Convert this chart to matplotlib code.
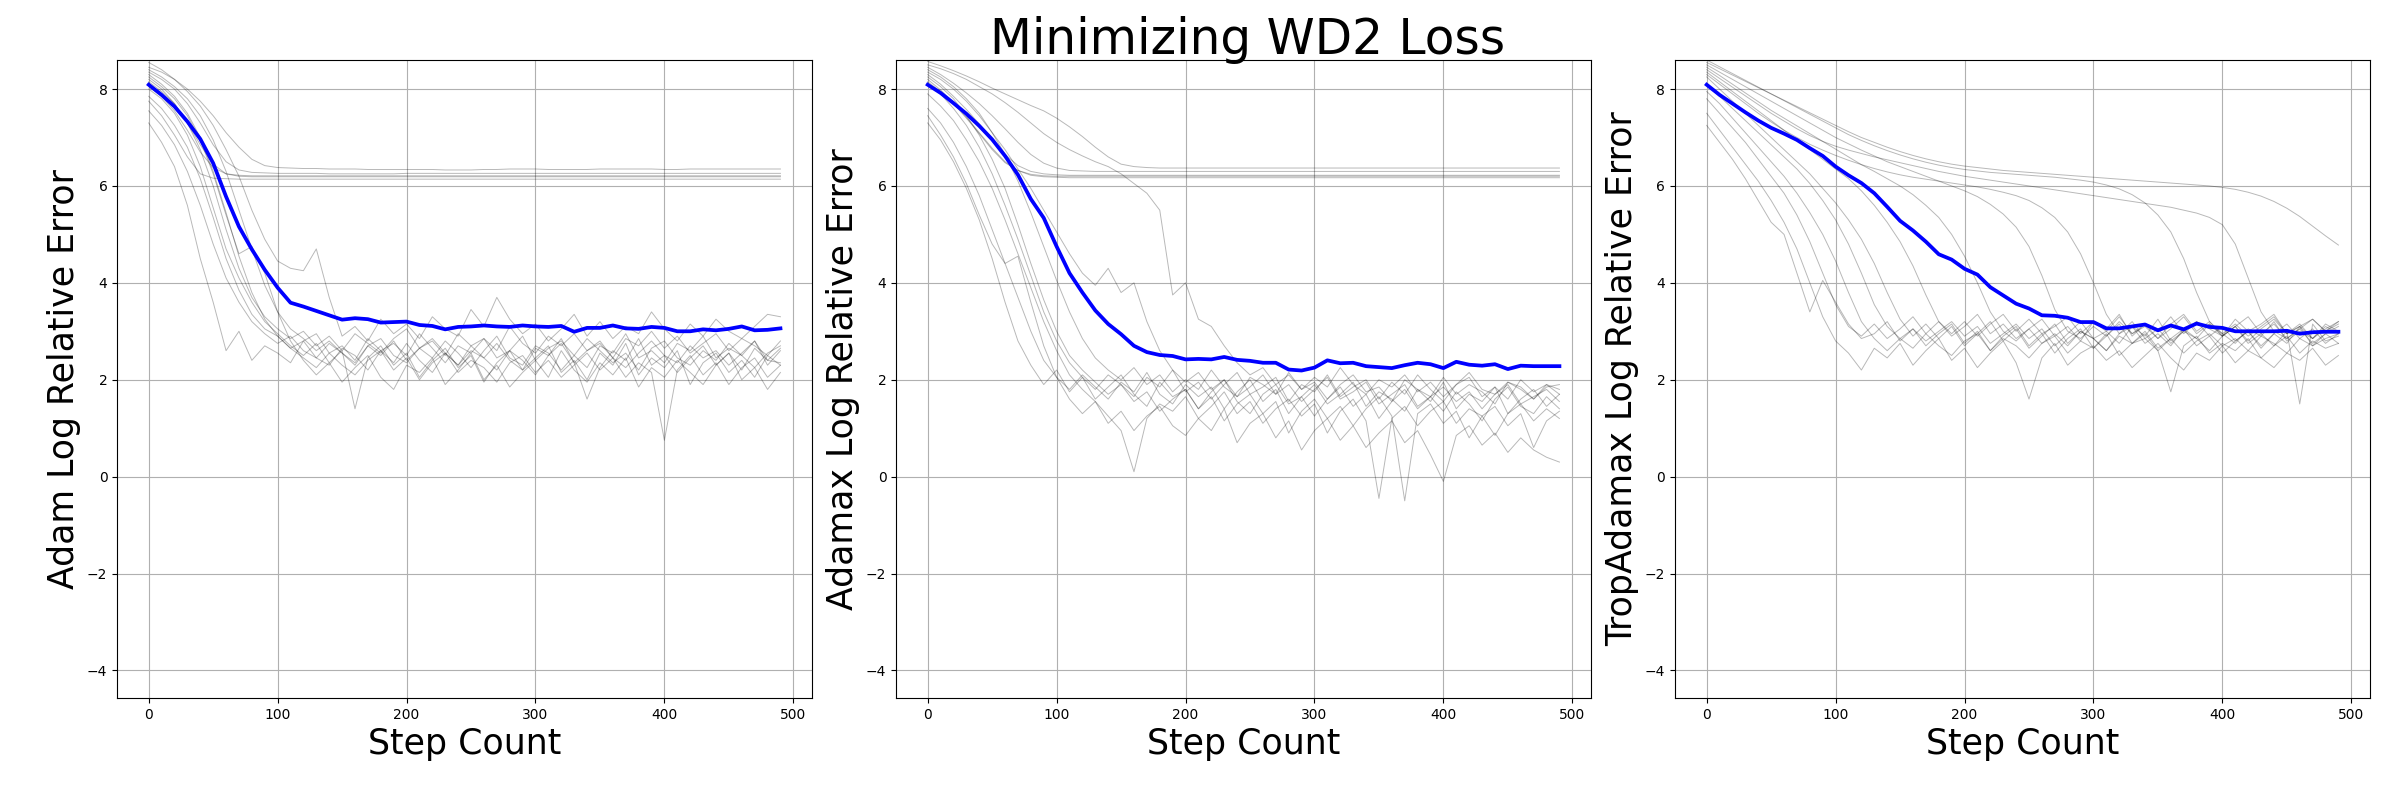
import matplotlib
matplotlib.use('Agg')
import matplotlib.pyplot as plt
import numpy as np

steps = np.arange(0, 500, 10)

# mean curves (blue)
adam_mean = [8.09, 7.88, 7.64, 7.33, 6.97, 6.47, 5.78, 5.16, 4.69, 4.27,
             3.90, 3.59, 3.51, 3.42, 3.33, 3.24, 3.27, 3.25, 3.18, 3.19,
             3.20, 3.13, 3.11, 3.04, 3.09, 3.10, 3.12, 3.10, 3.09, 3.12,
             3.10, 3.09, 3.11, 2.99, 3.07, 3.07, 3.12, 3.06, 3.05, 3.09,
             3.07, 3.00, 3.00, 3.04, 3.02, 3.05, 3.10, 3.02, 3.03, 3.06]
adamax_mean = [8.09, 7.92, 7.71, 7.49, 7.24, 6.96, 6.62, 6.23, 5.73, 5.34,
               4.75, 4.20, 3.80, 3.43, 3.15, 2.94, 2.70, 2.57, 2.51, 2.49,
               2.42, 2.43, 2.42, 2.47, 2.41, 2.39, 2.35, 2.35, 2.21, 2.19,
               2.25, 2.40, 2.34, 2.35, 2.28, 2.26, 2.24, 2.30, 2.35, 2.32,
               2.24, 2.37, 2.31, 2.29, 2.32, 2.22, 2.29, 2.28, 2.28, 2.28]
trop_mean = [8.09, 7.88, 7.70, 7.52, 7.35, 7.20, 7.08, 6.95, 6.78, 6.62,
             6.40, 6.22, 6.06, 5.85, 5.57, 5.28, 5.08, 4.85, 4.59, 4.48,
             4.29, 4.17, 3.91, 3.74, 3.57, 3.47, 3.33, 3.32, 3.28, 3.19,
             3.19, 3.06, 3.06, 3.10, 3.14, 3.02, 3.12, 3.04, 3.16, 3.09,
             3.07, 3.00, 3.00, 3.00, 3.00, 3.01, 2.95, 2.98, 2.99, 2.99]

# individual runs (gray)
adam_runs = [
    [8.45, 8.35, 8.20, 8.00, 7.75, 7.45, 7.10, 6.80, 6.55, 6.42,
     6.38, 6.37, 6.36, 6.36, 6.35, 6.35, 6.35, 6.34, 6.34, 6.34,
     6.34, 6.34, 6.34, 6.33, 6.33, 6.33, 6.34, 6.34, 6.35, 6.35,
     6.35, 6.34, 6.34, 6.34, 6.34, 6.35, 6.35, 6.35, 6.35, 6.35,
     6.34, 6.34, 6.35, 6.35, 6.35, 6.35, 6.35, 6.35, 6.35, 6.35],
    [8.35, 8.20, 8.00, 7.70, 7.30, 6.85, 6.50, 6.33, 6.28, 6.27,
     6.26, 6.26, 6.26, 6.26, 6.25, 6.25, 6.25, 6.25, 6.25, 6.25,
     6.26, 6.26, 6.26, 6.26, 6.26, 6.26, 6.26, 6.26, 6.26, 6.26,
     6.26, 6.26, 6.26, 6.26, 6.26, 6.26, 6.26, 6.26, 6.26, 6.26,
     6.26, 6.26, 6.26, 6.26, 6.26, 6.26, 6.26, 6.26, 6.26, 6.26],
    [8.05, 7.85, 7.55, 7.15, 6.70, 6.38, 6.25, 6.22, 6.21, 6.21,
     6.21, 6.21, 6.21, 6.21, 6.21, 6.21, 6.21, 6.21, 6.21, 6.21,
     6.21, 6.21, 6.21, 6.21, 6.21, 6.21, 6.21, 6.21, 6.21, 6.21,
     6.21, 6.21, 6.21, 6.21, 6.21, 6.21, 6.21, 6.21, 6.21, 6.21,
     6.21, 6.21, 6.21, 6.21, 6.21, 6.21, 6.21, 6.21, 6.21, 6.21],
    [8.20, 8.00, 7.70, 7.30, 6.85, 6.45, 6.25, 6.20, 6.19, 6.19,
     6.19, 6.19, 6.19, 6.19, 6.19, 6.19, 6.19, 6.19, 6.19, 6.19,
     6.19, 6.19, 6.19, 6.19, 6.19, 6.19, 6.19, 6.19, 6.19, 6.19,
     6.19, 6.19, 6.19, 6.19, 6.19, 6.19, 6.19, 6.19, 6.19, 6.19,
     6.19, 6.19, 6.19, 6.19, 6.19, 6.19, 6.19, 6.19, 6.19, 6.19],
    [7.75, 7.45, 7.05, 6.60, 6.25, 6.16, 6.15, 6.14, 6.14, 6.14,
     6.14, 6.14, 6.14, 6.14, 6.14, 6.14, 6.14, 6.14, 6.14, 6.14,
     6.14, 6.14, 6.14, 6.14, 6.14, 6.14, 6.14, 6.14, 6.14, 6.14,
     6.14, 6.14, 6.14, 6.14, 6.14, 6.14, 6.14, 6.14, 6.14, 6.14,
     6.14, 6.14, 6.14, 6.14, 6.14, 6.14, 6.14, 6.14, 6.14, 6.14],
    [7.30, 6.90, 6.40, 5.60, 4.50, 3.60, 2.60, 3.00, 2.40, 2.70,
     2.55, 2.35, 2.80, 2.45, 2.30, 2.65, 2.50, 2.20, 2.60, 2.35,
     2.75, 2.40, 2.15, 2.55, 2.30, 2.70, 2.45, 2.20, 2.60, 2.40,
     2.10, 2.50, 2.75, 2.35, 1.60, 2.25, 2.60, 2.40, 2.85, 2.30,
     2.50, 2.15, 2.45, 2.70, 2.30, 2.55, 2.20, 2.65, 2.40, 2.35],
    [7.55, 7.25, 6.85, 6.30, 5.60, 4.80, 4.10, 3.60, 3.20, 2.95,
     2.75, 2.90, 2.60, 2.45, 2.75, 2.55, 2.30, 2.70, 2.85, 2.50,
     2.35, 2.65, 2.45, 2.80, 2.55, 2.25, 2.60, 2.90, 2.45, 2.30,
     2.70, 2.55, 2.20, 2.50, 2.85, 2.60, 2.35, 2.55, 2.20, 2.65,
     2.80, 2.45, 2.30, 2.60, 2.40, 2.75, 2.50, 2.25, 2.55, 2.70],
    [7.85, 7.60, 7.25, 6.80, 6.15, 5.35, 4.50, 3.85, 3.35, 3.05,
     2.90, 2.65, 2.80, 2.95, 2.55, 2.70, 2.40, 2.85, 2.60, 2.75,
     2.50, 2.95, 2.65, 2.35, 2.70, 2.55, 2.85, 2.45, 2.60, 2.90,
     2.40, 2.65, 2.80, 2.50, 2.25, 2.70, 2.55, 2.95, 2.45, 2.60,
     2.35, 2.75, 2.60, 2.90, 2.45, 2.65, 2.50, 2.80, 2.30, 2.60],
    [8.00, 7.80, 7.50, 7.05, 6.40, 5.55, 4.70, 4.10, 3.60, 3.20,
     2.95, 2.70, 2.50, 2.75, 2.35, 2.60, 1.40, 2.45, 2.70, 2.30,
     2.55, 2.05, 2.40, 2.65, 2.25, 2.50, 1.95, 2.35, 2.60, 2.20,
     2.45, 2.70, 2.15, 2.40, 2.00, 2.55, 2.30, 2.75, 2.10, 2.45,
     2.25, 2.60, 1.90, 2.35, 2.55, 2.15, 2.40, 2.05, 2.50, 2.30],
    [8.15, 7.95, 7.70, 7.30, 6.75, 6.00, 5.10, 4.30, 3.70, 3.30,
     3.05, 2.85, 3.00, 2.70, 2.90, 2.60, 2.95, 2.75, 2.55, 2.85,
     3.05, 2.65, 2.80, 2.50, 2.95, 2.70, 2.85, 2.60, 3.10, 2.75,
     2.55, 2.90, 2.70, 2.95, 2.60, 2.80, 2.45, 2.85, 2.70, 3.00,
     2.65, 2.90, 2.55, 2.75, 2.95, 2.60, 2.85, 2.70, 2.50, 2.80],
    [8.25, 8.05, 7.80, 7.45, 6.95, 6.25, 5.40, 4.60, 4.75, 4.20,
     3.40, 2.80, 2.40, 2.10, 2.35, 1.95, 2.25, 2.50, 2.05, 1.80,
     2.30, 2.15, 2.45, 1.90, 2.20, 2.55, 2.00, 2.30, 1.85, 2.15,
     2.40, 2.05, 2.60, 2.20, 1.95, 2.35, 2.10, 2.45, 1.85, 2.25,
     2.05, 2.40, 2.15, 1.90, 2.30, 2.55, 2.00, 2.25, 1.80, 2.15],
    [8.40, 8.25, 8.05, 7.80, 7.45, 6.95, 6.30, 5.50, 4.70, 3.95,
     3.40, 3.05, 2.85, 2.60, 2.80, 2.55, 2.35, 2.70, 2.50, 2.80,
     2.40, 2.65, 2.85, 2.55, 2.30, 2.60, 2.45, 2.75, 2.40, 2.20,
     2.65, 2.50, 2.85, 2.35, 2.60, 2.75, 2.45, 2.25, 2.55, 2.80,
     2.50, 2.35, 2.70, 2.45, 2.60, 2.30, 2.55, 2.80, 2.40, 2.65],
    [8.55, 8.40, 8.20, 7.95, 7.65, 7.25, 6.75, 6.20, 5.50, 4.90,
     4.45, 4.30, 4.25, 4.70, 3.70, 2.90, 3.10, 2.80, 3.25, 2.95,
     3.15, 2.85, 3.30, 3.05, 2.90, 3.45, 3.10, 3.70, 3.25, 2.95,
     3.15, 2.80, 3.05, 3.35, 2.90, 3.20, 2.85, 3.10, 2.95, 3.40,
     3.05, 2.80, 3.15, 2.90, 3.25, 3.00, 2.85, 3.10, 3.35, 3.30],
    [8.30, 8.10, 7.85, 7.50, 7.00, 6.30, 5.45, 4.55, 3.80, 3.25,
     2.90, 2.65, 2.45, 2.25, 2.55, 2.30, 2.10, 2.40, 2.60, 2.20,
     2.45, 2.00, 2.35, 2.55, 2.15, 2.40, 2.25, 1.95, 2.35, 2.50,
     2.15, 2.40, 2.05, 2.30, 2.55, 2.20, 2.45, 2.05, 2.35, 2.15,
     0.75, 2.20, 2.50, 2.10, 2.35, 1.90, 2.25, 2.45, 2.05, 2.30],
]

adamax_runs = [
    [8.57, 8.48, 8.38, 8.27, 8.15, 8.02, 7.90, 7.78, 7.66, 7.55,
     7.40, 7.22, 7.02, 6.80, 6.60, 6.45, 6.40, 6.38, 6.37, 6.37,
     6.37, 6.37, 6.37, 6.37, 6.37, 6.37, 6.37, 6.37, 6.37, 6.37,
     6.37, 6.37, 6.37, 6.37, 6.37, 6.37, 6.37, 6.37, 6.37, 6.37,
     6.37, 6.37, 6.37, 6.37, 6.37, 6.37, 6.37, 6.37, 6.37, 6.37],
    [8.45, 8.30, 8.12, 7.92, 7.70, 7.45, 7.18, 6.90, 6.65, 6.47,
     6.37, 6.32, 6.31, 6.30, 6.30, 6.30, 6.30, 6.30, 6.30, 6.30,
     6.30, 6.30, 6.30, 6.30, 6.30, 6.30, 6.30, 6.30, 6.30, 6.30,
     6.30, 6.30, 6.30, 6.30, 6.30, 6.30, 6.30, 6.30, 6.30, 6.30,
     6.30, 6.30, 6.30, 6.30, 6.30, 6.30, 6.30, 6.30, 6.30, 6.30],
    [8.30, 8.10, 7.85, 7.58, 7.28, 6.95, 6.65, 6.42, 6.30, 6.25,
     6.23, 6.22, 6.22, 6.22, 6.22, 6.22, 6.22, 6.22, 6.22, 6.22,
     6.22, 6.22, 6.22, 6.22, 6.22, 6.22, 6.22, 6.22, 6.22, 6.22,
     6.22, 6.22, 6.22, 6.22, 6.22, 6.22, 6.22, 6.22, 6.22, 6.22,
     6.22, 6.22, 6.22, 6.22, 6.22, 6.22, 6.22, 6.22, 6.22, 6.22],
    [8.15, 7.95, 7.70, 7.40, 7.08, 6.75, 6.48, 6.32, 6.24, 6.21,
     6.20, 6.20, 6.20, 6.20, 6.20, 6.20, 6.20, 6.20, 6.20, 6.20,
     6.20, 6.20, 6.20, 6.20, 6.20, 6.20, 6.20, 6.20, 6.20, 6.20,
     6.20, 6.20, 6.20, 6.20, 6.20, 6.20, 6.20, 6.20, 6.20, 6.20,
     6.20, 6.20, 6.20, 6.20, 6.20, 6.20, 6.20, 6.20, 6.20, 6.20],
    [8.20, 7.98, 7.72, 7.42, 7.10, 6.78, 6.50, 6.32, 6.22, 6.19,
     6.18, 6.17, 6.17, 6.17, 6.17, 6.17, 6.17, 6.17, 6.17, 6.17,
     6.17, 6.17, 6.17, 6.17, 6.17, 6.17, 6.17, 6.17, 6.17, 6.17,
     6.17, 6.17, 6.17, 6.17, 6.17, 6.17, 6.17, 6.17, 6.17, 6.17,
     6.17, 6.17, 6.17, 6.17, 6.17, 6.17, 6.17, 6.17, 6.17, 6.17],
    [7.30, 6.95, 6.50, 5.95, 5.30, 4.50, 3.60, 2.80, 2.30, 1.90,
     2.20, 1.75, 2.05, 1.60, 1.85, 2.10, 1.70, 1.45, 1.95, 1.65,
     1.80, 1.40, 1.75, 2.00, 1.55, 1.30, 1.70, 1.90, 1.50, 1.65,
     1.25, 1.60, 1.85, 1.45, 1.70, 1.20, 1.55, 1.80, 1.40, 1.65,
     1.35, 1.75, 1.50, 1.15, 1.60, 1.85, 1.45, 1.30, 1.65, 1.40],
    [7.60, 7.30, 6.90, 6.40, 5.80, 5.10, 4.40, 3.70, 3.00, 2.40,
     2.05, 1.80, 2.10, 1.85, 1.60, 1.95, 1.75, 2.15, 1.70, 1.50,
     1.90, 1.65, 1.85, 1.40, 1.75, 2.00, 1.55, 1.80, 1.30, 1.65,
     1.90, 1.50, 1.70, 1.95, 1.45, 1.75, 1.60, 1.35, 1.80, 1.55,
     1.95, 1.40, 1.70, 1.55, 1.85, 1.30, 1.60, 1.80, 1.45, 1.70],
    [7.90, 7.65, 7.35, 6.95, 6.50, 5.95, 5.30, 4.60, 3.90, 3.20,
     2.60, 2.10, 1.80, 1.55, 1.25, 0.95, 0.10, 1.20, 1.50, 1.35,
     1.65, 1.20, 1.45, 1.75, 1.30, 1.55, 1.10, 1.40, 1.60, 1.25,
     1.50, 0.90, 1.35, 1.60, 1.15, -0.45, 1.20, 1.45, 1.05, 1.35,
     1.55, 1.10, 1.40, 1.25, 0.85, 1.30, 1.50, 1.15, 1.40, 1.20],
    [8.10, 7.90, 7.60, 7.25, 6.80, 6.25, 5.60, 4.90, 4.15, 3.40,
     2.80, 2.35, 2.05, 1.80, 2.10, 1.90, 1.65, 2.05, 1.85, 2.20,
     1.75, 1.95, 1.60, 1.90, 2.15, 1.70, 1.85, 2.05, 1.55, 1.90,
     1.75, 2.10, 1.65, 1.85, 2.00, 1.60, 1.95, 1.70, 2.10, 1.80,
     1.55, 1.90, 2.05, 1.65, 1.85, 1.60, 2.00, 1.75, 1.90, 1.70],
    [8.25, 8.05, 7.80, 7.45, 7.05, 6.55, 5.95, 5.20, 4.40, 3.65,
     3.00, 2.50, 2.20, 1.95, 1.70, 1.90, 1.55, 1.75, 1.35, 1.60,
     1.80, 1.40, 1.65, 1.15, 1.50, 1.70, 1.30, 1.55, 0.90, 1.35,
     1.60, 1.20, 1.45, 1.05, 1.40, 1.65, 1.25, -0.50, 1.30, 1.50,
     1.10, 1.35, 0.80, 1.25, 1.45, 1.05, 1.30, 0.60, 1.15, 1.35],
    [8.40, 8.25, 8.05, 7.80, 7.50, 7.10, 6.65, 6.10, 5.45, 4.75,
     4.05, 3.40, 2.85, 2.45, 2.20, 2.00, 2.25, 1.90, 2.10, 1.75,
     2.00, 1.80, 2.20, 1.85, 1.65, 2.05, 1.90, 1.70, 2.15, 1.80,
     1.95, 1.60, 1.90, 2.10, 1.75, 1.85, 1.55, 2.00, 1.80, 1.65,
     2.05, 1.70, 1.90, 1.75, 1.50, 1.95, 1.80, 1.60, 1.85, 1.90],
    [8.50, 8.42, 8.32, 8.20, 8.05, 7.90, 7.72, 7.52, 7.30, 7.08,
     6.90, 6.75, 6.62, 6.50, 6.40, 6.25, 6.05, 5.85, 5.50, 3.75,
     4.00, 3.25, 3.10, 2.70, 2.35, 2.10, 2.25, 1.90, 2.10, 1.80,
     2.05, 1.85, 2.25, 1.90, 1.70, 2.00, 1.85, 2.10, 1.75, 1.95,
     1.65, 1.90, 2.15, 1.80, 1.70, 1.95, 1.85, 1.60, 1.90, 1.80],
    [8.35, 8.20, 8.00, 7.75, 7.45, 7.10, 6.75, 6.35, 5.95, 5.50,
     5.05, 4.60, 4.20, 3.95, 4.30, 3.80, 4.00, 3.20, 2.60, 2.20,
     1.95, 2.15, 1.80, 2.00, 1.65, 1.85, 2.10, 1.70, 1.90, 1.55,
     1.80, 2.05, 1.60, 1.75, 1.95, 1.50, 1.70, 1.90, 1.45, 1.65,
     1.85, 1.55, 1.75, 1.40, 1.70, 1.90, 1.50, 1.65, 1.80, 1.55],
    [7.45, 7.05, 6.60, 6.05, 5.40, 4.80, 4.40, 4.55, 3.60, 2.70,
     2.05, 1.60, 1.30, 1.55, 1.10, 1.35, 0.95, 1.25, 1.45, 1.05,
     0.85, 1.20, 0.95, 1.40, 0.70, 1.10, 1.30, 0.80, 1.15, 0.55,
     0.95, 1.20, 0.75, 1.05, 0.60, 0.90, 1.15, 0.70, 0.95, 0.45,
     -0.10, 0.85, 1.05, 0.65, 0.90, 0.50, 0.80, 0.55, 0.40, 0.30],
]

trop_runs = [
    [7.25, 6.90, 6.55, 6.15, 5.70, 5.25, 5.00, 4.20, 3.40, 4.05,
     3.60, 3.15, 2.85, 2.95, 3.20, 2.80, 3.05, 2.70, 2.95, 3.15,
     2.75, 3.00, 2.60, 2.90, 3.10, 2.70, 2.95, 2.55, 2.85, 3.05,
     2.65, 2.90, 3.15, 2.75, 2.95, 2.60, 2.85, 3.05, 2.70, 2.90,
     2.55, 2.80, 3.00, 2.65, 2.95, 2.75, 3.10, 2.70, 2.85, 2.95],
    [7.50, 7.15, 6.80, 6.45, 6.10, 5.70, 5.25, 4.70, 4.00, 3.30,
     2.80, 2.55, 2.20, 2.65, 2.45, 2.75, 2.30, 2.60, 2.85, 2.40,
     2.65, 2.25, 2.55, 2.80, 2.35, 1.60, 2.45, 2.75, 2.30, 2.55,
     2.70, 2.40, 2.60, 2.25, 2.50, 2.75, 2.45, 2.20, 2.55, 2.40,
     2.70, 2.35, 2.60, 2.45, 2.25, 2.55, 2.40, 2.65, 2.30, 2.50],
    [7.80, 7.50, 7.20, 6.90, 6.55, 6.20, 5.85, 5.40, 4.85, 4.20,
     3.55, 3.10, 2.90, 3.15, 2.85, 3.05, 3.30, 2.95, 3.20, 2.90,
     3.10, 3.35, 2.95, 3.15, 2.85, 3.05, 3.25, 2.90, 3.10, 2.80,
     3.20, 3.00, 3.30, 2.95, 3.10, 2.85, 3.15, 3.35, 3.00, 3.20,
     2.90, 3.10, 3.30, 2.95, 3.15, 2.85, 3.05, 3.25, 3.00, 3.15],
    [7.95, 7.70, 7.40, 7.10, 6.80, 6.50, 6.20, 5.85, 5.45, 5.00,
     4.45, 3.80, 3.20, 2.85, 2.60, 2.85, 2.65, 2.95, 2.70, 2.50,
     2.80, 2.95, 2.60, 2.85, 2.70, 2.45, 2.75, 2.90, 2.55, 2.80,
     2.65, 2.95, 2.50, 2.75, 2.85, 2.60, 1.75, 2.70, 2.90, 2.55,
     2.75, 2.60, 2.85, 2.45, 2.70, 2.90, 2.55, 2.80, 2.65, 2.75],
    [8.10, 7.85, 7.60, 7.35, 7.10, 6.85, 6.60, 6.35, 6.05, 5.70,
     5.30, 4.80, 4.20, 3.55, 3.10, 2.85, 3.05, 2.80, 3.00, 3.20,
     2.90, 3.10, 2.75, 2.95, 3.15, 2.85, 3.05, 2.70, 2.95, 3.20,
     2.85, 3.00, 2.75, 3.10, 2.90, 3.25, 2.80, 3.00, 2.85, 3.15,
     2.95, 2.75, 3.05, 2.90, 3.20, 2.80, 3.00, 2.85, 3.10, 2.95],
    [8.25, 8.00, 7.75, 7.50, 7.25, 7.00, 6.75, 6.50, 6.25, 5.95,
     5.65, 5.30, 4.90, 4.40, 3.80, 3.25, 2.90, 3.15, 2.85, 3.10,
     2.70, 2.95, 3.20, 2.80, 3.05, 2.65, 2.90, 3.15, 2.75, 3.00,
     2.85, 2.60, 2.95, 3.10, 2.75, 2.95, 2.70, 3.05, 2.85, 2.60,
     2.90, 3.10, 2.75, 2.95, 2.70, 3.00, 1.50, 3.15, 2.80, 2.90],
    [8.35, 8.15, 7.95, 7.75, 7.55, 7.35, 7.15, 6.95, 6.75, 6.55,
     6.35, 6.15, 5.90, 5.60, 5.25, 4.85, 4.35, 3.75, 3.20, 2.95,
     3.20, 2.90, 3.15, 3.35, 3.00, 3.25, 2.95, 3.10, 3.30, 2.95,
     3.20, 3.05, 3.35, 2.90, 3.15, 3.00, 3.30, 2.95, 3.20, 3.05,
     2.90, 3.25, 3.00, 3.15, 3.35, 2.95, 3.10, 3.25, 3.00, 3.20],
    [8.45, 8.28, 8.10, 7.92, 7.74, 7.56, 7.40, 7.24, 7.08, 6.92,
     6.76, 6.60, 6.44, 6.30, 6.15, 6.00, 5.82, 5.60, 5.35, 5.00,
     4.55, 4.00, 3.40, 3.00, 2.80, 3.05, 2.75, 2.95, 2.70, 3.00,
     2.85, 2.60, 2.90, 2.75, 3.00, 2.65, 2.85, 2.55, 2.80, 2.95,
     2.70, 2.85, 2.60, 2.90, 2.75, 2.55, 2.85, 2.70, 2.95, 2.75],
    [8.50, 8.35, 8.20, 8.05, 7.90, 7.75, 7.60, 7.45, 7.30, 7.15,
     7.00, 6.87, 6.74, 6.62, 6.50, 6.40, 6.30, 6.20, 6.10, 6.00,
     5.90, 5.78, 5.62, 5.42, 5.15, 4.75, 4.15, 3.45, 3.00, 2.85,
     3.10, 2.90, 3.20, 2.95, 3.15, 2.85, 3.05, 3.30, 2.95, 3.15,
     2.90, 3.10, 2.80, 3.05, 3.25, 2.95, 3.10, 2.85, 3.15, 3.00],
    [8.30, 8.10, 7.90, 7.70, 7.50, 7.32, 7.15, 7.00, 6.86, 6.74,
     6.63, 6.53, 6.44, 6.36, 6.29, 6.23, 6.18, 6.14, 6.10, 6.06,
     6.02, 5.98, 5.93, 5.87, 5.80, 5.70, 5.55, 5.35, 5.05, 4.60,
     4.00, 3.35, 2.95, 3.20, 2.85, 3.05, 2.75, 3.00, 3.20, 2.90,
     3.10, 2.80, 3.00, 2.70, 2.95, 3.15, 2.85, 3.05, 2.75, 2.95],
    [8.60, 8.46, 8.32, 8.18, 8.04, 7.90, 7.76, 7.62, 7.48, 7.34,
     7.20, 7.06, 6.94, 6.83, 6.73, 6.64, 6.56, 6.49, 6.43, 6.38,
     6.34, 6.31, 6.28, 6.26, 6.24, 6.22, 6.20, 6.18, 6.15, 6.12,
     6.08, 6.02, 5.94, 5.82, 5.65, 5.40, 5.05, 4.50, 3.80, 3.20,
     2.95, 3.15, 2.90, 3.10, 3.30, 2.95, 3.15, 2.85, 3.05, 3.20],
    [8.40, 8.22, 8.04, 7.86, 7.68, 7.50, 7.34, 7.18, 7.04, 6.92,
     6.82, 6.74, 6.67, 6.60, 6.54, 6.48, 6.42, 6.36, 6.30, 6.25,
     6.20, 6.16, 6.12, 6.08, 6.04, 6.00, 5.96, 5.92, 5.88, 5.84,
     5.80, 5.76, 5.72, 5.68, 5.64, 5.60, 5.56, 5.50, 5.44, 5.35,
     5.20, 4.80, 4.10, 3.40, 3.00, 2.85, 3.05, 2.75, 2.95, 3.10],
    [8.55, 8.42, 8.29, 8.16, 8.03, 7.90, 7.77, 7.64, 7.51, 7.38,
     7.25, 7.12, 7.00, 6.90, 6.80, 6.71, 6.63, 6.56, 6.50, 6.45,
     6.41, 6.38, 6.35, 6.32, 6.30, 6.28, 6.26, 6.24, 6.22, 6.20,
     6.18, 6.16, 6.14, 6.12, 6.10, 6.08, 6.06, 6.04, 6.02, 6.00,
     5.97, 5.93, 5.87, 5.79, 5.68, 5.54, 5.37, 5.17, 4.97, 4.78],
]

panels = [
    ("Adam Log Relative Error", adam_runs, adam_mean),
    ("Adamax Log Relative Error", adamax_runs, adamax_mean),
    ("TropAdamax Log Relative Error", trop_runs, trop_mean),
]

fig, axes = plt.subplots(1, 3, figsize=(24, 8))
fig.subplots_adjust(left=0.0488, right=0.9875, bottom=0.1275, top=0.925, wspace=0.121)

for ax, (label, runs, mean) in zip(axes, panels):
    for run in runs:
        ax.plot(steps[:len(run)], run, color='k', alpha=0.28, linewidth=0.7)
    ax.plot(steps[:len(mean)], mean, color='b', linewidth=2.7)
    ax.set_ylim(-4.57, 8.6)
    ax.set_xlabel("Step Count", fontsize=25)
    ax.set_ylabel(label, fontsize=25)
    ax.grid()

fig.suptitle("Minimizing WD2 Loss", fontsize=35, x=0.52)
fig.savefig("out.png", dpi=100)
